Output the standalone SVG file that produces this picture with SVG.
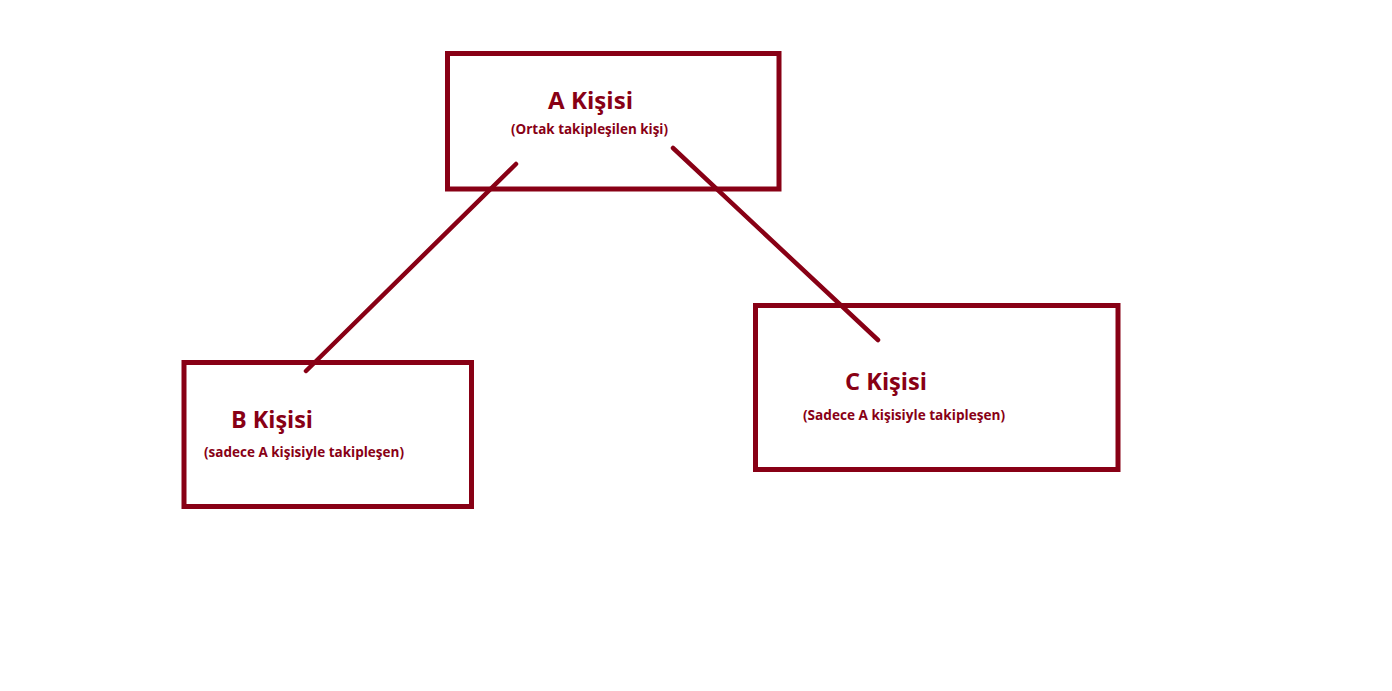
<svg xmlns="http://www.w3.org/2000/svg" width="1392" height="691" viewBox="0 0 1392 691">
<style>
.box{fill:none;stroke:#880015;stroke-width:5}
.con{stroke:#880015;stroke-width:4.5;stroke-linecap:round;fill:none}
.t{font-family:"Open Sans","Liberation Sans",sans-serif;font-weight:bold;fill:#880015}
.h{font-size:24px}
.s{font-size:13.5px}
</style>
<rect width="1392" height="691" fill="#ffffff"/>
<g id="nodeA">
<rect class="box" x="447.5" y="53.5" width="331.5" height="135.5"/>
<text class="t h" x="548" y="109" textLength="85" lengthAdjust="spacingAndGlyphs">A Kişisi</text>
<text class="t s" x="511" y="134" textLength="157" lengthAdjust="spacingAndGlyphs">(Ortak takipleşilen kişi)</text>
</g>
<g id="nodeB">
<rect class="box" x="184" y="362.5" width="287.5" height="144"/>
<text class="t h" x="231" y="428" textLength="82" lengthAdjust="spacingAndGlyphs">B Kişisi</text>
<text class="t s" x="204" y="457" textLength="200" lengthAdjust="spacingAndGlyphs">(sadece A kişisiyle takipleşen)</text>
</g>
<g id="nodeC">
<rect class="box" x="755.5" y="305.5" width="362.5" height="164"/>
<text class="t h" x="845" y="390" textLength="82" lengthAdjust="spacingAndGlyphs">C Kişisi</text>
<text class="t s" x="803" y="420" textLength="202" lengthAdjust="spacingAndGlyphs">(Sadece A kişisiyle takipleşen)</text>
</g>
<g id="connectors">
<line class="con" x1="516" y1="164" x2="306" y2="371"/>
<line class="con" x1="673" y1="148" x2="878" y2="340"/>
</g>
</svg>
